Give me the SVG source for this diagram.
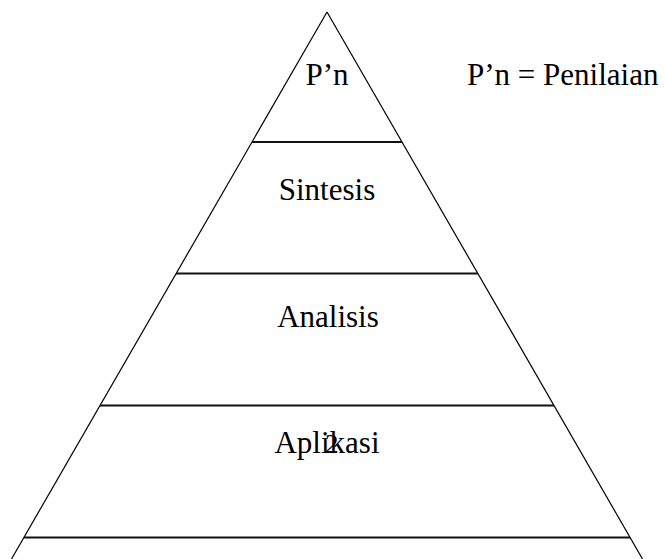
<svg xmlns="http://www.w3.org/2000/svg" width="665" height="559" viewBox="0 0 665 559">
<style>
.side{stroke:#000;stroke-width:1.2;fill:none}
.tier{stroke:#111;stroke-width:2;fill:none}
.t{font-family:'Liberation Serif','Times New Roman',Tinos,'DejaVu Serif',serif;font-size:31px;fill:#000}
.c{text-anchor:middle}
</style>
<rect width="665" height="559" fill="#fff"/>
<g id="connectors">
<line class="side" x1="327" y1="12" x2="11.5" y2="559"/>
<line class="side" x1="327" y1="12" x2="642.5" y2="559"/>
<line class="tier" x1="252" y1="142" x2="402" y2="142"/>
<line class="tier" x1="176" y1="273.5" x2="478" y2="273.5"/>
<line class="tier" x1="100" y1="405.5" x2="554" y2="405.5"/>
<line class="tier" x1="24" y1="537.5" x2="630" y2="537.5"/>
</g>
<g id="node-pn"><text class="t c" x="327" y="85" font-family="Liberation Serif, serif">P’n</text></g>
<g id="node-sintesis"><text class="t c" x="327" y="200" font-family="Liberation Serif, serif">Sintesis</text></g>
<g id="node-analisis"><text class="t c" x="328" y="327" font-family="Liberation Serif, serif">Analisis</text></g>
<g id="node-aplikasi"><text class="t c" x="327" y="453" font-family="Liberation Serif, serif">Aplikasi</text><text class="t" x="325" y="453" font-family="Liberation Serif, serif" style="font-size:27px">2</text></g>
<g id="legend"><text class="t" x="467" y="85" font-family="Liberation Serif, serif">P’n = Penilaian</text></g>
</svg>
